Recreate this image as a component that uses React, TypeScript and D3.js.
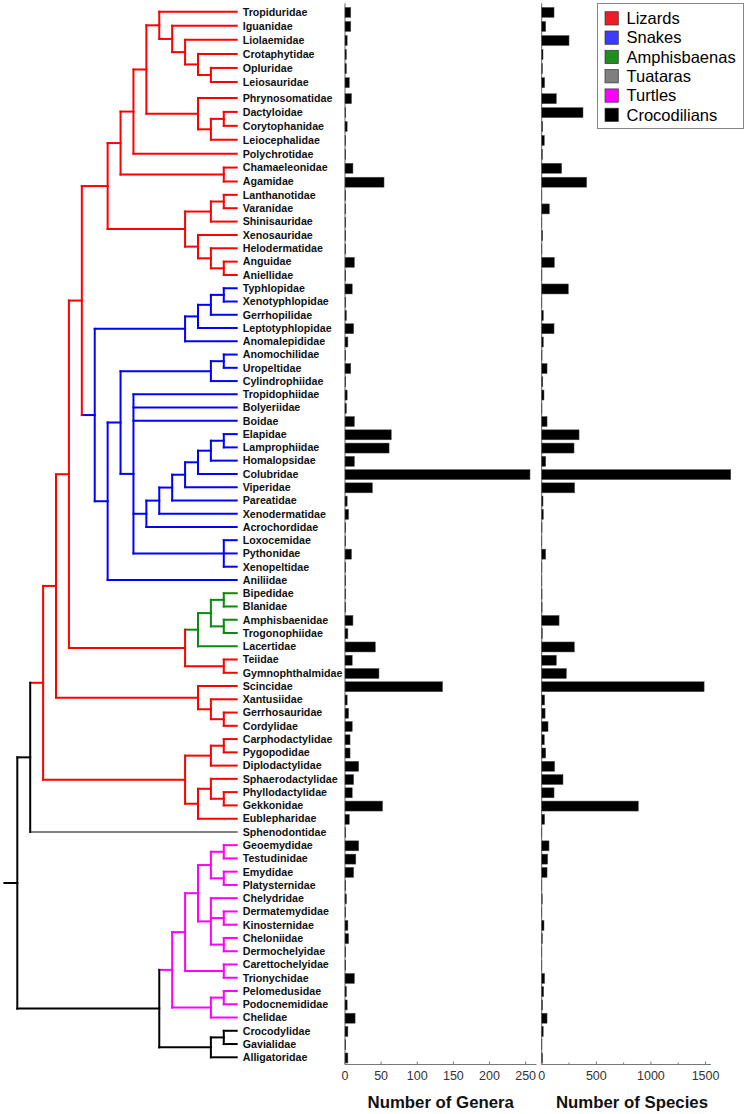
import React from "react";
import * as d3 from "d3";

// ---------- DATA ----------
const FAMILIES = [
  "Tropiduridae","Iguanidae","Liolaemidae","Crotaphytidae","Opluridae","Leiosauridae",
  "Phrynosomatidae","Dactyloidae","Corytophanidae","Leiocephalidae","Polychrotidae",
  "Chamaeleonidae","Agamidae","Lanthanotidae","Varanidae","Shinisauridae","Xenosauridae",
  "Helodermatidae","Anguidae","Aniellidae","Typhlopidae","Xenotyphlopidae","Gerrhopilidae",
  "Leptotyphlopidae","Anomalepididae","Anomochilidae","Uropeltidae","Cylindrophiidae",
  "Tropidophiidae","Bolyeriidae","Boidae","Elapidae","Lamprophiidae","Homalopsidae",
  "Colubridae","Viperidae","Pareatidae","Xenodermatidae","Acrochordidae","Loxocemidae",
  "Pythonidae","Xenopeltidae","Aniliidae","Bipedidae","Blanidae","Amphisbaenidae",
  "Trogonophiidae","Lacertidae","Teiidae","Gymnophthalmidae","Scincidae","Xantusiidae",
  "Gerrhosauridae","Cordylidae","Carphodactylidae","Pygopodidae","Diplodactylidae",
  "Sphaerodactylidae","Phyllodactylidae","Gekkonidae","Eublepharidae","Sphenodontidae",
  "Geoemydidae","Testudinidae","Emydidae","Platysternidae","Chelydridae","Dermatemydidae",
  "Kinosternidae","Cheloniidae","Dermochelyidae","Carettochelyidae","Trionychidae",
  "Pelomedusidae","Podocnemididae","Chelidae","Crocodylidae","Gavialidae","Alligatoridae",
];

const GENERA = [
  8, 8, 3, 2, 2, 6,
  9, 1, 3, 1, 1,
  11, 54, 1, 1, 1, 1,
  1, 13, 1, 10, 1, 2,
  12, 4, 1, 8, 1,
  3, 2, 13, 64, 61, 13,
  256, 38, 3, 5, 1, 1,
  9, 1, 1, 1, 1, 11,
  4, 42, 10, 47, 135, 3,
  5, 10, 7, 7, 19,
  12, 10, 52, 6, 1,
  19, 15, 12, 1, 2, 1,
  4, 5, 1, 1, 13,
  2, 3, 14, 4, 1, 4,
];

const SPECIES = [
  113, 37, 250, 12, 7, 27,
  134, 378, 9, 24, 7,
  183, 412, 1, 70, 1, 9,
  2, 116, 2, 244, 1, 15,
  113, 15, 3, 49, 10,
  21, 2, 49, 342, 296, 37,
  1731, 302, 12, 15, 3, 1,
  37, 2, 1, 3, 4, 159,
  6, 299, 134, 226, 1487, 27,
  31, 58, 24, 37, 119,
  195, 113, 885, 27, 1,
  67, 55, 49, 1, 5, 1,
  21, 6, 1, 1, 27,
  18, 8, 49, 14, 2, 8,
];

// Tree: internal node = [level, ...children]; tips are family names
const TREE: any = [0,
  [1,
    [2,
      [3,
        [4,
          [5,
            [7,
              [8,
                [9,
                  [10,
                    [11, "Tropiduridae", [12, "Iguanidae", [13, "Liolaemidae", [14, "Crotaphytidae", [15, "Opluridae", "Leiosauridae"]]]]],
                    [14, "Phrynosomatidae", [15, [16, "Dactyloidae", "Corytophanidae"], "Leiocephalidae"]],
                  ],
                  "Polychrotidae",
                ],
                [16, "Chamaeleonidae", "Agamidae"],
              ],
              [13,
                [15, [16, "Lanthanotidae", "Varanidae"], "Shinisauridae"],
                [14, "Xenosauridae", [15, "Helodermatidae", [16, "Anguidae", "Aniellidae"]]],
              ],
            ],
            [6,
              [13, [14, [15, [16, "Typhlopidae", "Xenotyphlopidae"], "Gerrhopilidae"], "Leptotyphlopidae"], "Anomalepididae"],
              [7,
                [8,
                  [15, [16, "Anomochilidae", "Uropeltidae"], "Cylindrophiidae"],
                  [9, "Tropidophiidae", "Bolyeriidae", "Boidae",
                    [10, [11, [12, [13, [14, [15, [16, "Elapidae", "Lamprophiidae"], "Homalopsidae"], "Colubridae"], "Viperidae"], "Pareatidae"], "Xenodermatidae"], "Acrochordidae"],
                    [16, "Loxocemidae", "Pythonidae", "Xenopeltidae"],
                  ],
                ],
                "Aniliidae",
              ],
            ],
          ],
          [13,
            [14, [15, [16, "Bipedidae", "Blanidae"], [16, "Amphisbaenidae", "Trogonophiidae"]], "Lacertidae"],
            [16, "Teiidae", "Gymnophthalmidae"],
          ],
        ],
        [14, "Scincidae", [15, "Xantusiidae", [16, "Gerrhosauridae", "Cordylidae"]]],
      ],
      [13,
        [15, [16, "Carphodactylidae", "Pygopodidae"], "Diplodactylidae"],
        [14, [15, "Sphaerodactylidae", [16, "Phyllodactylidae", "Gekkonidae"]], "Eublepharidae"],
      ],
    ],
    "Sphenodontidae",
  ],
  [11,
    [12,
      [13,
        [14,
          [15, [16, "Geoemydidae", "Testudinidae"], [16, "Emydidae", "Platysternidae"]],
          [15, "Chelydridae", [16, "Dermatemydidae", "Kinosternidae"], [16, "Cheloniidae", "Dermochelyidae"]],
        ],
        [16, "Carettochelyidae", "Trionychidae"],
      ],
      [15, [16, "Pelomedusidae", "Podocnemididae"], "Chelidae"],
    ],
    [15, [16, "Crocodylidae", "Gavialidae"], "Alligatoridae"],
  ],
];

const GROUPS = ["Lizards", "Snakes", "Amphisbaenas", "Tuataras", "Turtles", "Crocodilians"];
const GROUP_COLORS = ["#ff0000", "#0000ff", "#0a8a0a", "#808080", "#ff00ff", "#000000"];
const LEGEND_COLORS = ["#ee1c24", "#3c3cff", "#1e8e1e", "#7f7f7f", "#ff00ff", "#000000"];

const SNAKES = FAMILIES.slice(20, 43);
// branch colouring as drawn in the figure (Lacertidae branch drawn green)
const AMPHISBAENAS = ["Bipedidae", "Blanidae", "Amphisbaenidae", "Trogonophiidae", "Lacertidae"];
const TUATARAS = ["Sphenodontidae"];
const TURTLES = FAMILIES.slice(62, 76);
const CROCODILIANS = ["Crocodylidae", "Gavialidae", "Alligatoridae"];

const GENERA_TICKS = [0, 50, 100, 150, 200, 250];
const SPECIES_TICKS = [0, 500, 1000, 1500];
const SPECIES_MINOR = [250, 750, 1250];

// ---------- LAYOUT ----------
const W = 748, H = 1114;
const FONT = "Arial, 'Liberation Sans', sans-serif";

const yScale = d3.scaleLinear().domain([0, 5, 6, 12, 19, 78]).range([11.7, 82, 98, 181.5, 275, 1057.3]);
const lvl = d3.scaleLinear().domain([0, 17]).range([17.3, 236.7]);
const gx = d3.scaleLinear().domain([0, 265]).range([345, 536.5]);
const sx = d3.scaleLinear().domain([0, 1550]).range([541.7, 711]);
const AXIS_Y = 1064.5;
const BAR_H = 10;

function groupOf(name: string) {
  if (SNAKES.includes(name)) return "Snakes";
  if (AMPHISBAENAS.includes(name)) return "Amphisbaenas";
  if (TUATARAS.includes(name)) return "Tuataras";
  if (TURTLES.includes(name)) return "Turtles";
  if (CROCODILIANS.includes(name)) return "Crocodilians";
  return "Lizards";
}
const color = (g: string) => GROUP_COLORS[GROUPS.indexOf(g)];

function build(n: any): any {
  if (typeof n === "string") return { name: n };
  return { level: n[0], children: n.slice(1).map(build) };
}

function layoutTree() {
  const root: any = d3.hierarchy(build(TREE));
  root.eachAfter((d: any) => {
    if (!d.children) {
      d.py = yScale(FAMILIES.indexOf(d.data.name));
      d.px = lvl(17);
      d.g = groupOf(d.data.name);
    } else {
      const c = d.children;
      d.py = (c[0].py + c[c.length - 1].py) / 2;
      d.px = lvl(d.data.level);
      const gs = Array.from(new Set(d.leaves().map((l: any) => l.g)));
      if (gs.length === 1) d.g = gs[0];
      else if (gs.every((g: any) => g === "Lizards" || g === "Snakes" || g === "Amphisbaenas")) d.g = "Lizards";
      else d.g = "Crocodilians";
    }
  });
  return root;
}

export default function App() {
  const root = layoutTree();
  const nodes: any[] = root.descendants();
  const horiz: any[] = [];
  const vert: any[] = [];
  nodes.forEach((d) => {
    if (d.parent) horiz.push({ x1: d.parent.px, x2: d.px, y: d.py, c: color(d.g) });
    if (d.children) {
      const c = d.children;
      vert.push({ x: d.px, y1: c[0].py, y2: c[c.length - 1].py, c: color(d.g) });
    }
  });

  return (
    <svg width={W} height={H} style={{ position: "absolute", left: 0, top: 0, background: "#fff" }} fontFamily={FONT}>
      {/* tree */}
      <g strokeWidth={2} strokeLinecap="square" fill="none">
        <line x1={lvl(-1)} x2={root.px} y1={root.py} y2={root.py} stroke="#000" />
        {horiz.map((h, i) => (
          <line key={"h" + i} x1={h.x1} x2={h.x2} y1={h.y} y2={h.y} stroke={h.c} />
        ))}
        {vert.map((v, i) => (
          <line key={"v" + i} x1={v.x} x2={v.x} y1={v.y1} y2={v.y2} stroke={v.c} />
        ))}
      </g>
      {/* tip labels */}
      <g fontSize={10.7} fontWeight="bold" fill="#111">
        {FAMILIES.map((f, i) => (
          <text key={f} x={lvl(17) + 6} y={yScale(i)} dy="0.36em">{f}</text>
        ))}
      </g>

      {/* genera bars */}
      <line x1={gx(0)} x2={gx(0)} y1={3.3} y2={AXIS_Y} stroke="#666" strokeWidth={1} />
      <g fill="#000" stroke="#555" strokeWidth={0.5}>
        {GENERA.map((v, i) => (
          <rect key={"g" + i} x={gx(0)} y={yScale(i) + 0.7 - BAR_H / 2} width={gx(v) - gx(0)} height={BAR_H} />
        ))}
      </g>
      <line x1={gx(0)} x2={gx.range()[1]} y1={AXIS_Y} y2={AXIS_Y} stroke="#777" strokeWidth={1} />
      {GENERA_TICKS.map((t) => (
        <g key={"gt" + t}>
          <line x1={gx(t)} x2={gx(t)} y1={AXIS_Y} y2={AXIS_Y - 3} stroke="#777" />
          <text x={gx(t)} y={AXIS_Y + 15.5} textAnchor="middle" fontSize={12.5} fill="#333">{t}</text>
        </g>
      ))}
      <text x={(gx.range()[0] + gx.range()[1]) / 2} y={1107.5} textAnchor="middle" fontSize={16.8} fontWeight="bold" fill="#111">Number of Genera</text>

      {/* species bars */}
      <line x1={sx(0)} x2={sx(0)} y1={3.3} y2={AXIS_Y} stroke="#666" strokeWidth={1} />
      <g fill="#000" stroke="#555" strokeWidth={0.5}>
        {SPECIES.map((v, i) => (
          <rect key={"s" + i} x={sx(0)} y={yScale(i) + 0.7 - BAR_H / 2} width={sx(v) - sx(0)} height={BAR_H} />
        ))}
      </g>
      <line x1={sx(0)} x2={sx.range()[1]} y1={AXIS_Y} y2={AXIS_Y} stroke="#777" strokeWidth={1} />
      {SPECIES_TICKS.map((t) => (
        <g key={"st" + t}>
          <line x1={sx(t)} x2={sx(t)} y1={AXIS_Y} y2={AXIS_Y - 3} stroke="#777" />
          <text x={sx(t)} y={AXIS_Y + 15.5} textAnchor="middle" fontSize={12.5} fill="#333">{t}</text>
        </g>
      ))}
      {SPECIES_MINOR.map((t) => (
        <line key={"sm" + t} x1={sx(t)} x2={sx(t)} y1={AXIS_Y} y2={AXIS_Y - 2} stroke="#777" />
      ))}
      <text x={632} y={1107.5} textAnchor="middle" fontSize={16.8} fontWeight="bold" fill="#111">Number of Species</text>

      {/* legend */}
      <g>
        <rect x={597.5} y={3.5} width={146} height={125} fill="#fff" stroke="#888" strokeWidth={1} />
        {GROUPS.map((g, i) => (
          <g key={g}>
            <rect x={605} y={11.7 + i * 19.3} width={13.3} height={13.3} fill={LEGEND_COLORS[i]} stroke="#333" strokeWidth={0.7} />
            <text x={626.5} y={11.7 + i * 19.3 + 12.3} fontSize={16.5} fill="#000">{g}</text>
          </g>
        ))}
      </g>
    </svg>
  );
}
